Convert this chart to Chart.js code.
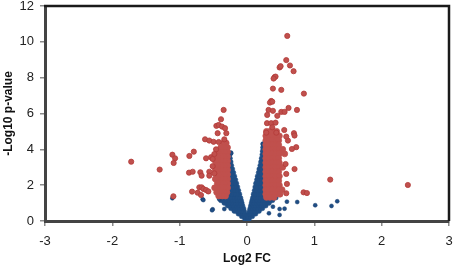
<!DOCTYPE html>
<html>
<head>
<meta charset="utf-8">
<script src="https://cdn.jsdelivr.net/npm/chart.js@4.4.1/dist/chart.umd.min.js"></script>
<style>
  html, body { margin: 0; padding: 0; background: #ffffff; }
  #wrap { width: 454px; height: 267px; }
</style>
</head>
<body>
<div id="wrap"><canvas id="c" width="454" height="267"></canvas></div>
<script>
// ---- Axis ticks ----
const xTicks = [-3, -2, -1, 0, 1, 2, 3];
const yTicks = [0, 2, 4, 6, 8, 10, 12];

// ---- Significant (red) points, sparse: [log2FC, -log10 p] ----
const sigRightSparse = [
  [0.598,10.33],[0.583,8.98],[0.638,8.68],[0.692,8.36],[0.484,8.57],[0.499,8.64],
  [0.41,8.03],[0.424,8.06],[0.395,7.95],[0.385,7.39],[0.509,7.32],[0.845,7.11],
  [0.36,6.70],[0.341,6.61],[0.375,6.66],[0.32,6.2],[0.385,6.15],[0.30,5.92],
  [0.509,6.09],[0.558,6.09],[0.617,6.31],[0.742,6.2],[0.45,5.87],[0.297,5.46],
  [0.36,5.46],[0.424,5.49],[0.375,5.23],[0.553,5.08],[0.286,4.93],[0.435,4.93],
  [0.697,4.9],[0.731,4.12],[0.667,4.02],[0.608,4.49],[0.706,4.77],[0.583,4.71],
  [0.706,2.9],[0.573,3.18],[0.583,2.63],[0.593,2.07],[0.583,1.55],[0.84,1.60],
  [0.89,1.56],[1.236,2.31],[2.389,2.01]
];
const sigLeftSparse = [
  [-0.347,6.2],[-0.386,5.68],[-0.455,5.31],[-0.42,5.36],[-0.371,5.27],[-0.326,5.18],
  [-0.436,4.9],[-0.307,4.9],[-0.623,4.56],[-0.56,4.49],[-0.496,4.42],[-0.42,4.41],
  [-0.337,4.56],[-0.46,4.0],[-0.79,3.87],[-0.856,3.63],[-0.608,3.50],[-0.534,3.56],
  [-0.861,2.70],[-0.807,2.75],[-0.693,2.72],[-0.674,2.53],[-0.56,2.75],[-0.485,2.66],
  [-0.816,1.64],[-0.708,1.88],[-0.674,1.88],[-0.648,1.79],[-0.608,1.73],[-0.574,1.65],
  [-0.733,1.58],[-0.683,1.45],[-1.72,3.31],[-1.297,2.87],[-1.108,3.70],[-1.068,3.50],
  [-1.089,3.24],[-1.093,1.38],[-0.51,3.06],[-0.485,3.74],[-0.51,3.46],[-0.56,2.53]
];
// ---- Significant (red) points, dense clusters ----
const sigLeftDense = [
  [-0.31,4.35],[-0.35,4.35],
  [-0.29,4.1],[-0.34,4.1],[-0.39,4.1],
  [-0.29,3.85],[-0.34,3.85],[-0.39,3.85],[-0.43,3.85],
  [-0.29,3.6],[-0.34,3.6],[-0.39,3.6],[-0.44,3.6],
  [-0.29,3.35],[-0.34,3.35],[-0.39,3.35],[-0.44,3.35],[-0.47,3.35],
  [-0.29,3.1],[-0.34,3.1],[-0.39,3.1],[-0.44,3.1],
  [-0.29,2.85],[-0.34,2.85],[-0.39,2.85],[-0.44,2.85],[-0.47,2.85],
  [-0.29,2.6],[-0.34,2.6],[-0.39,2.6],[-0.43,2.6],
  [-0.29,2.35],[-0.34,2.35],[-0.39,2.35],[-0.44,2.35],[-0.47,2.35],
  [-0.29,2.1],[-0.34,2.1],[-0.39,2.1],[-0.44,2.1],
  [-0.29,1.85],[-0.34,1.85],[-0.39,1.85],[-0.44,1.85],[-0.48,1.85],
  [-0.3,1.6],[-0.35,1.6],[-0.4,1.6],[-0.45,1.6],
  [-0.32,1.4],[-0.37,1.4],[-0.42,1.4]
];
const sigRightDense = [
  [0.29,5.0],[0.34,5.0],[0.39,5.0],[0.44,5.0],
  [0.28,4.75],[0.33,4.75],[0.38,4.75],[0.43,4.75],[0.48,4.75],
  [0.28,4.5],[0.33,4.5],[0.38,4.5],[0.43,4.5],[0.47,4.5],
  [0.28,4.25],[0.33,4.25],[0.38,4.25],[0.43,4.25],[0.47,4.25],
  [0.28,4.0],[0.33,4.0],[0.38,4.0],[0.43,4.0],[0.48,4.0],[0.53,4.0],
  [0.28,3.75],[0.33,3.75],[0.38,3.75],[0.43,3.75],[0.48,3.75],[0.56,3.75],
  [0.28,3.5],[0.33,3.5],[0.38,3.5],[0.43,3.5],[0.47,3.5],
  [0.28,3.25],[0.33,3.25],[0.38,3.25],[0.43,3.25],[0.48,3.25],
  [0.28,3.0],[0.33,3.0],[0.38,3.0],[0.43,3.0],[0.48,3.0],[0.53,3.0],
  [0.28,2.75],[0.33,2.75],[0.38,2.75],[0.43,2.75],[0.47,2.75],
  [0.28,2.5],[0.33,2.5],[0.38,2.5],[0.43,2.5],[0.48,2.5],
  [0.28,2.25],[0.33,2.25],[0.38,2.25],[0.43,2.25],[0.47,2.25],
  [0.28,2.0],[0.33,2.0],[0.38,2.0],[0.43,2.0],[0.48,2.0],
  [0.28,1.75],[0.33,1.75],[0.38,1.75],[0.43,1.75],[0.47,1.75],[0.52,1.75],
  [0.28,1.5],[0.33,1.5],[0.38,1.5],[0.43,1.5],[0.49,1.5],
  [0.29,1.32],[0.34,1.32],[0.4,1.32]
];

// ---- Non-significant (blue) points ----
const nsLeftArm = [
  [-0.01,0.1],[-0.03,0.1],
  [-0.02,0.25],[-0.05,0.25],[-0.08,0.25],
  [-0.03,0.4],[-0.06,0.4],[-0.1,0.4],[-0.13,0.4],
  [-0.04,0.55],[-0.08,0.55],[-0.12,0.55],[-0.16,0.55],[-0.19,0.55],
  [-0.05,0.7],[-0.09,0.7],[-0.13,0.7],[-0.17,0.7],[-0.21,0.7],[-0.24,0.7],
  [-0.065,0.85],[-0.1,0.85],[-0.14,0.85],[-0.18,0.85],[-0.22,0.85],[-0.26,0.85],[-0.29,0.85],
  [-0.075,1.0],[-0.11,1.0],[-0.15,1.0],[-0.19,1.0],[-0.23,1.0],[-0.27,1.0],[-0.31,1.0],[-0.34,1.0],
  [-0.085,1.15],[-0.12,1.15],[-0.16,1.15],[-0.2,1.15],[-0.24,1.15],[-0.28,1.15],[-0.32,1.15],[-0.36,1.15],[-0.39,1.15],
  [-0.095,1.3],[-0.13,1.3],[-0.17,1.3],[-0.21,1.3],[-0.25,1.3],[-0.29,1.3],[-0.33,1.3],[-0.37,1.3],[-0.41,1.3],
  [-0.11,1.5],[-0.15,1.5],[-0.19,1.5],[-0.23,1.5],[-0.27,1.5],
  [-0.125,1.7],[-0.16,1.7],[-0.2,1.7],[-0.24,1.7],
  [-0.14,1.9],[-0.18,1.9],[-0.22,1.9],[-0.26,1.9],
  [-0.155,2.1],[-0.19,2.1],[-0.23,2.1],[-0.27,2.1],
  [-0.17,2.3],[-0.21,2.3],[-0.25,2.3],
  [-0.185,2.5],[-0.22,2.5],[-0.26,2.5],
  [-0.2,2.7],[-0.24,2.7],[-0.27,2.7],
  [-0.215,2.9],[-0.25,2.9],
  [-0.23,3.1],[-0.265,3.1],
  [-0.24,3.3],[-0.27,3.3],
  [-0.25,3.5],[-0.255,3.7],[-0.24,3.8]
];
const nsRightArm = [
  [0.01,0.1],[0.03,0.1],
  [0.02,0.25],[0.05,0.25],[0.08,0.25],
  [0.03,0.4],[0.06,0.4],[0.1,0.4],[0.13,0.4],
  [0.035,0.55],[0.07,0.55],[0.11,0.55],[0.15,0.55],[0.18,0.55],
  [0.045,0.7],[0.08,0.7],[0.12,0.7],[0.16,0.7],[0.2,0.7],[0.23,0.7],
  [0.055,0.85],[0.09,0.85],[0.13,0.85],[0.17,0.85],[0.21,0.85],[0.25,0.85],[0.28,0.85],
  [0.065,1.0],[0.1,1.0],[0.14,1.0],[0.18,1.0],[0.22,1.0],[0.26,1.0],[0.3,1.0],[0.33,1.0],
  [0.075,1.15],[0.11,1.15],[0.15,1.15],[0.19,1.15],[0.23,1.15],[0.27,1.15],[0.31,1.15],[0.35,1.15],[0.38,1.15],
  [0.085,1.3],[0.12,1.3],[0.16,1.3],[0.2,1.3],[0.24,1.3],[0.28,1.3],[0.32,1.3],[0.36,1.3],[0.4,1.3],[0.43,1.3],
  [0.095,1.5],[0.13,1.5],[0.17,1.5],[0.21,1.5],[0.25,1.5],
  [0.11,1.7],[0.15,1.7],[0.19,1.7],[0.23,1.7],
  [0.12,1.9],[0.16,1.9],[0.2,1.9],[0.24,1.9],
  [0.13,2.1],[0.17,2.1],[0.21,2.1],[0.245,2.1],
  [0.145,2.3],[0.18,2.3],[0.22,2.3],[0.25,2.3],
  [0.155,2.5],[0.19,2.5],[0.23,2.5],
  [0.17,2.7],[0.21,2.7],[0.245,2.7],
  [0.18,2.9],[0.215,2.9],[0.25,2.9],
  [0.195,3.1],[0.23,3.1],
  [0.205,3.3],[0.24,3.3],
  [0.215,3.5],[0.245,3.5],
  [0.225,3.7],[0.25,3.7],
  [0.23,3.9],[0.235,4.1],[0.237,4.3]
];
const nsSparse = [
  [-1.108,1.27],[-0.659,1.21],[-0.648,1.17],[-0.51,0.65],[-0.519,0.60],[-0.411,1.21],
  [-0.337,0.67],[-0.386,1.32],[1.34,1.10],[1.255,0.84],[1.013,0.88],[0.746,1.06],
  [0.593,1.08],[0.558,0.69],[0.484,0.67],[0.484,0.34],[0.326,0.43],[0.385,0.80],
  [0.237,4.3],[-0.237,3.78]
];

const toXY = arr => arr.map(p => ({ x: p[0], y: p[1] }));

const RED = '#C0504D', RED_EDGE = '#B23A37';
const BLUE = '#1F4E85', BLUE_EDGE = '#1B3F6E';

const frame = {
  id: 'frame',
  afterDraw(chart) {
    const { ctx, chartArea: a } = chart;
    ctx.save();
    ctx.strokeStyle = '#1a1a1a';
    ctx.lineWidth = 2.5;
    ctx.beginPath();
    ctx.moveTo(a.left - 1, a.top);
    ctx.lineTo(a.right, a.top);
    ctx.lineTo(a.right, a.bottom);
    ctx.stroke();
    ctx.restore();
  }
};

function noPad(s) { s.paddingLeft = 0; s.paddingRight = 0; s.paddingTop = 0; s.paddingBottom = 0; }

new Chart(document.getElementById('c'), {
  type: 'scatter',
  data: {
    datasets: [
      { data: toXY(sigRightSparse.concat(sigLeftSparse)), backgroundColor: RED, borderColor: RED_EDGE, borderWidth: 0.8, pointRadius: 2.6 },
      { data: toXY(sigLeftDense.concat(sigRightDense)), backgroundColor: RED, borderColor: RED, borderWidth: 0.8, pointRadius: 3 },
      { data: toXY(nsSparse), backgroundColor: BLUE, borderColor: BLUE_EDGE, borderWidth: 0.5, pointRadius: 2 },
      { data: toXY(nsLeftArm.concat(nsRightArm)), backgroundColor: BLUE, borderColor: BLUE, borderWidth: 0.5, pointRadius: 2.3 }
    ]
  },
  options: {
    responsive: false,
    animation: false,
    devicePixelRatio: 1,
    layout: { padding: { top: 6, right: 5, left: 0, bottom: 0 } },
    plugins: { legend: { display: false }, tooltip: { enabled: false } },
    elements: { point: { hoverRadius: 0 } },
    scales: {
      x: {
        type: 'linear', min: -3, max: 3,
        afterBuildTicks: s => { s.ticks = xTicks.map(v => ({ value: v })); },
        ticks: { color: '#222', font: { family: 'Liberation Sans', size: 13 }, padding: 8, maxRotation: 0 },
        grid: { display: true, drawOnChartArea: false, drawTicks: true, tickLength: 5, color: '#8a8a8a', lineWidth: 1.5 },
        border: { display: true, color: '#444', width: 3 },
        title: { display: true, text: 'Log2 FC', color: '#111', font: { family: 'Liberation Sans', size: 12, weight: 'bold' }, padding: { top: 0, bottom: 1 } },
        afterFit: s => { s.height = 46; noPad(s); }
      },
      y: {
        type: 'linear', min: 0, max: 12,
        afterBuildTicks: s => { s.ticks = yTicks.map(v => ({ value: v })); },
        ticks: { color: '#222', font: { family: 'Liberation Sans', size: 13 }, padding: 6 },
        grid: { display: true, drawOnChartArea: false, drawTicks: true, tickLength: 5, color: '#8a8a8a', lineWidth: 1.5 },
        border: { display: true, color: '#444', width: 3 },
        title: { display: true, text: '-Log10 p-value', color: '#111', font: { family: 'Liberation Sans', size: 12, weight: 'bold' }, padding: { top: 1, bottom: 0 } },
        afterFit: s => { s.width = 45; noPad(s); }
      }
    }
  },
  plugins: [frame]
});
</script>
</body>
</html>
